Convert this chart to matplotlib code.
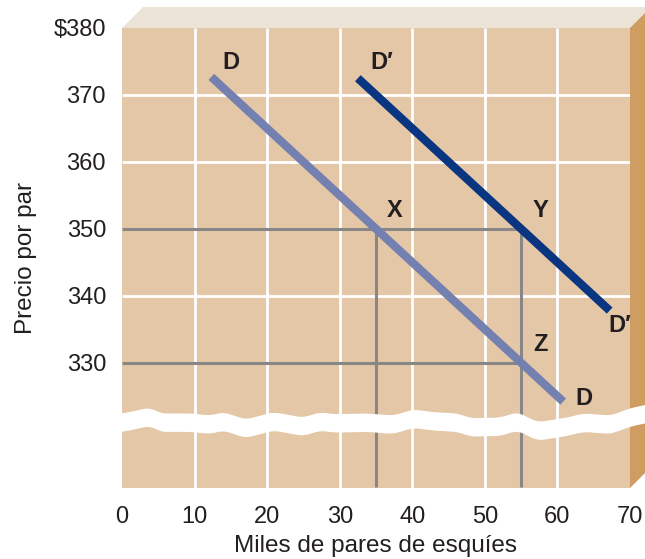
import numpy as np
import matplotlib.pyplot as plt
from matplotlib.patches import Polygon

plt.rcParams['font.family'] = ['Liberation Sans', 'DejaVu Sans']

# demand curves (thousands of pairs, price)
d_q = [12.3, 60.8]
d_p = [372.7, 324.2]
d2_q = [32.5, 67.2]
d2_p = [372.5, 337.8]

# equilibrium guide points X, Y, Z
guide_q = [35, 55]
guide_p = [350, 330]

x_ticks = [0, 10, 20, 30, 40, 50, 60, 70]
y_ticks = [330, 340, 350, 360, 370, 380]
y_tick_labels = ['330', '340', '350', '360', '370', '$380']

# hand-read outline of the axis break (top edge)
wave_x = [-0.5, 0, 3.9, 5.2, 9.4, 12.1, 13.9, 17.0, 20.8, 24.9, 27.3, 29.1, 33.8, 37.3,
          40.1, 42.9, 46.2, 48.0, 52.1, 54.4, 57.2, 61.3, 63.5, 67.3, 70, 73]
wave_y = [322.5, 322.5, 323.4, 322.5, 322.5, 322.2, 322.7, 321.6, 322.7, 321.9, 322.7, 322.4,
          322.5, 322.2, 323.1, 322.7, 322.5, 321.8, 321.9, 322.7, 321.2, 321.9, 322.5, 322.2,
          323.3, 324.0]

YMIN, YMAX = 311.3, 380
bg = '#e4c7a6'
txt = '#231f20'

fig = plt.figure(figsize=(6.45, 5.59), dpi=100)
W, H = 645, 559
ax = fig.add_axes([122 / W, (H - 488) / H, (630 - 122) / W, (488 - 28) / H])
ax.set_xlim(0, 70)
ax.set_ylim(YMIN, YMAX)
ax.set_facecolor(bg)
for s in ax.spines.values():
    s.set_visible(False)

# 3D-ish top and side of the board
dx, dy = 2.9, 3.13
top = Polygon([(0, YMAX), (dx, YMAX + dy), (70 + dx + 5, YMAX + dy), (70 + 5, YMAX)],
              closed=True, facecolor='#ebe3d6', edgecolor='none', clip_on=False, zorder=0)
side = Polygon([(70, YMAX), (70 + dx, YMAX + dy), (70 + dx, YMIN + dy), (70, YMIN)],
               closed=True, facecolor='#cf9c62', edgecolor='none', clip_on=False, zorder=0)
ax.add_patch(top)
ax.add_patch(side)

# white grid
for x in x_ticks[1:-1]:
    ax.plot([x, x], [YMIN, YMAX], color='white', lw=2, zorder=1, solid_capstyle='butt')
for y in [340, 360, 370]:
    ax.plot([0, 70], [y, y], color='white', lw=2, zorder=1, solid_capstyle='butt')

# gray guide lines
gray = '#878787'
for p in guide_p:
    ax.plot([0, guide_q[1]], [p, p], color=gray, lw=2.2, zorder=2, solid_capstyle='butt')
for q in guide_q:
    ax.plot([q, q], [YMIN + 0.2, guide_p[0]], color=gray, lw=2.2, zorder=2, solid_capstyle='butt')

# demand curves
ax.plot(d_q, d_p, color='#7480b0', lw=6, zorder=3, solid_capstyle='butt')
ax.plot(d2_q, d2_p, color='#0a3580', lw=6, zorder=3, solid_capstyle='butt')

# break band
xs = np.linspace(-0.5, 73, 600)
ys = np.interp(xs, wave_x, wave_y)
k = np.ones(15) / 15
ys = np.convolve(np.pad(ys, 7, mode='edge'), k, mode='valid')
ax.fill_between(xs, ys, ys - 2.75, color='white', lw=0, zorder=4, clip_on=False)

lab = dict(fontsize=17, fontweight='bold', color=txt, ha='center', va='center', zorder=5)
ax.text(15.0, 374.9, 'D', **lab)
ax.text(35.8, 374.9, 'D\u2032', **lab)
ax.text(37.6, 352.7, 'X', **lab)
ax.text(57.7, 352.7, 'Y', **lab)
ax.text(57.7, 332.8, 'Z', **lab)
ax.text(63.6, 324.6, 'D', **lab)
ax.text(68.6, 335.5, 'D\u2032', **lab)

ax.set_xticks(x_ticks)
ax.set_yticks(y_ticks)
ax.set_yticklabels(y_tick_labels)
ax.tick_params(length=0, labelsize=17, labelcolor=txt)
ax.tick_params(axis='x', pad=13)
ax.tick_params(axis='y', pad=11.5)
ax.set_xlabel('Miles de pares de esquíes', fontsize=17.5, color=txt, labelpad=5)
ax.set_ylabel('Precio por par', fontsize=17.5, color=txt, labelpad=12)

fig.savefig('out.png', dpi=100)
